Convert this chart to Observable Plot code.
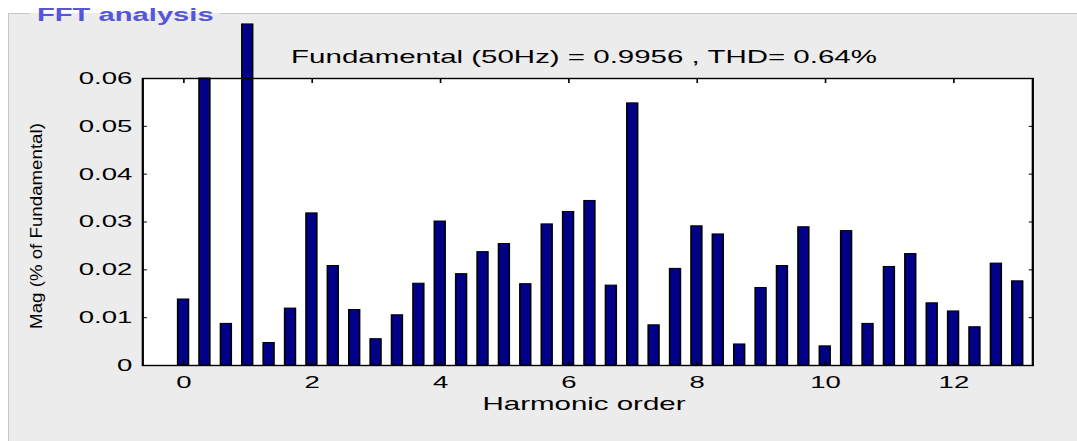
<!DOCTYPE html>
<html>
<head>
<meta charset="utf-8">
<script src="https://cdn.jsdelivr.net/npm/d3@7"></script>
<script src="https://cdn.jsdelivr.net/npm/@observablehq/plot@0.6"></script>
<style>
  html, body { margin: 0; padding: 0; background: #fff; }
  #page { position: relative; width: 1077px; height: 441px; overflow: hidden; background: #fff;
          font-family: "Liberation Sans", Arial, Helvetica, sans-serif; color: #000; }
  #panel { position: absolute; left: 8px; top: 13px; right: -4px; bottom: -4px; background: #ececec;
           border-top: 1px solid #c6c6c6; border-left: 1px solid #c6c6c6; }
  #groupLabelBox { position: absolute; left: 30px; top: 3px; width: 190px; height: 24px;
                   background: linear-gradient(to bottom, #fff 0px, #fff 10px, #ececec 10px, #ececec 24px); }
  #groupLabel { position: absolute; left: 7px; top: 3px; font-weight: bold; font-size: 18px; line-height: 18px;
                color: #5656d6; white-space: nowrap; transform: scaleX(1.62); transform-origin: 0 0; }
  #chart { position: absolute; left: 0; top: 0; }
  .st { position: absolute; white-space: nowrap; font-size: 18.2px; line-height: 18px;
        transform: translateX(-50%) scaleX(1.62); transform-origin: center; }
  #ylabel { position: absolute; white-space: nowrap; font-size: 17px; line-height: 17px;
            transform: translate(-50%, -50%) rotate(-90deg) scaleX(1.1); transform-origin: center; }
</style>
</head>
<body>
<div id="page">
  <div id="panel"></div>
  <div id="groupLabelBox"><div id="groupLabel">FFT analysis</div></div>
  <div id="chart"></div>
  <div class="st" id="title" style="left:584px; top:48px;"></div>
  <div class="st" id="xlabel" style="left:584px; top:395px;"></div>
  <div id="ylabel" style="left:36px; top:226px;"></div>
</div>
<script>
// ---- data ----
const titleText = "Fundamental (50Hz) = 0.9956 , THD= 0.64%";
const xLabelText = "Harmonic order";
const yLabelText = "Mag (% of Fundamental)";

const harmonicOrder = [
  0, 0.333, 0.667, 1, 1.333, 1.667, 2, 2.333, 2.667, 3,
  3.333, 3.667, 4, 4.333, 4.667, 5, 5.333, 5.667, 6, 6.333,
  6.667, 7, 7.333, 7.667, 8, 8.333, 8.667, 9, 9.333, 9.667,
  10, 10.333, 10.667, 11, 11.333, 11.667, 12, 12.333, 12.667, 13
];
const magnitude = [
  0.0138, 0.0600, 0.0087, 0.0713, 0.0047, 0.0119, 0.0318, 0.0208, 0.0116, 0.0055,
  0.0105, 0.0171, 0.0301, 0.0191, 0.0237, 0.0254, 0.0170, 0.0295, 0.0321, 0.0344,
  0.0167, 0.0548, 0.0084, 0.0202, 0.0291, 0.0274, 0.0044, 0.0162, 0.0208, 0.0289,
  0.0040, 0.0281, 0.0087, 0.0206, 0.0233, 0.0130, 0.0113, 0.0080, 0.0213, 0.0176
];
const xTicks = [0, 2, 4, 6, 8, 10, 12];
const xTickLabels = ["0", "2", "4", "6", "8", "10", "12"];
const yTicks = [0, 0.01, 0.02, 0.03, 0.04, 0.05, 0.06];
const yTickLabels = ["0", "0.01", "0.02", "0.03", "0.04", "0.05", "0.06"];

// ---- build ----
const data = harmonicOrder.map((h, i) => ({order: h, mag: magnitude[i]}));
const S = 1.62;             // horizontal stretch of the reference rendering
const W = 1077 / S;
const halfBar = 0.084;
const xFmt = d => xTickLabels[xTicks.indexOf(d)];
const yFmt = d => yTickLabels[yTicks.indexOf(d)];

const chart = Plot.plot({
  width: W,
  height: 441,
  marginLeft: 142 / S,
  marginRight: 45 / S,
  marginTop: 78,
  marginBottom: 76,
  style: {fontFamily: "'Liberation Sans', Arial, sans-serif", fontSize: "17px", color: "#000",
          background: "transparent", overflow: "visible"},
  x: {domain: [-0.64, 13.23], label: null},
  y: {domain: [0, 0.06], label: null},
  marks: [
    Plot.frame({fill: "white"}),
    Plot.rectY(data, {
      x1: d => d.order - halfBar,
      x2: d => d.order + halfBar,
      y1: 0,
      y2: "mag",
      fill: "#000088",
      stroke: "#000",
      strokeWidth: 1
    }),
    Plot.axisX(xTicks, {anchor: "bottom", tickSize: -4, tickPadding: 14, tickFormat: xFmt, stroke: "#000"}),
    Plot.axisX(xTicks, {anchor: "top", tickSize: -4, tickFormat: () => "", stroke: "#000"}),
    Plot.axisY(yTicks, {anchor: "left", tickSize: -3, tickPadding: 9.5, tickFormat: yFmt, stroke: "#000"}),
    Plot.axisY(yTicks, {anchor: "right", tickSize: -3, tickFormat: () => "", stroke: "#000"}),
    Plot.frame({stroke: "#000", strokeWidth: 1.4})
  ]
});

chart.setAttribute("width", 1077);
chart.setAttribute("height", 441);
chart.setAttribute("preserveAspectRatio", "none");
chart.style.width = "1077px";
chart.style.height = "441px";
chart.style.maxWidth = "none";
document.getElementById("chart").appendChild(chart);

document.getElementById("title").textContent = titleText;
document.getElementById("xlabel").textContent = xLabelText;
document.getElementById("ylabel").textContent = yLabelText;
</script>
</body>
</html>
